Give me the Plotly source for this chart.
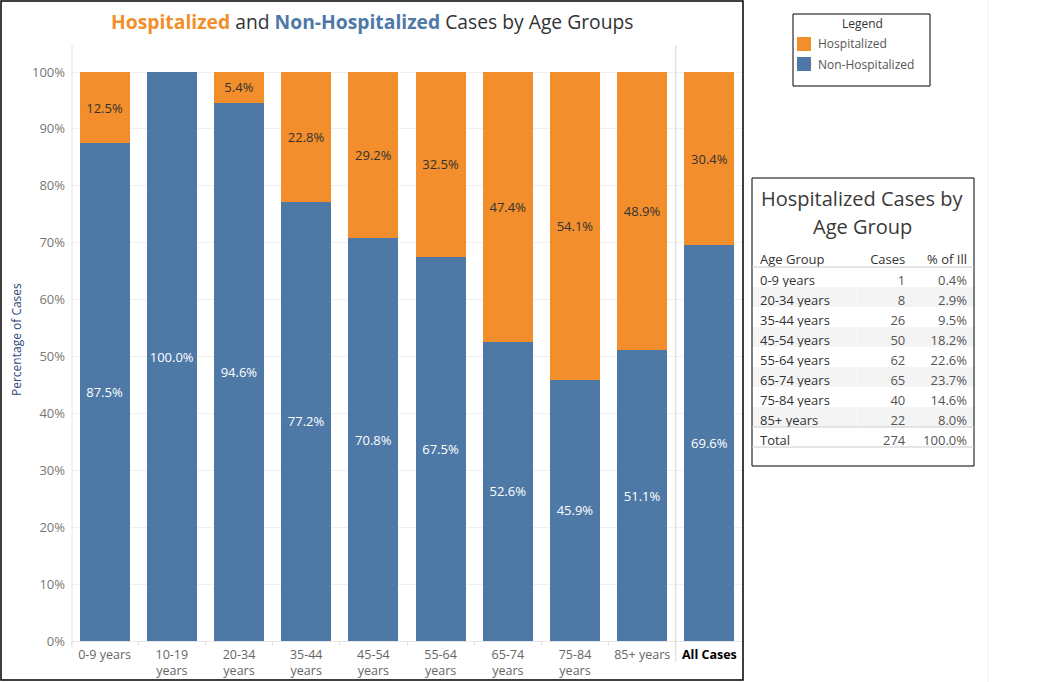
import plotly.graph_objects as go

# ---------------- data ----------------
categories = ["0-9 years", "10-19 years", "20-34 years", "35-44 years", "45-54 years",
              "55-64 years", "65-74 years", "75-84 years", "85+ years", "All Cases"]
tick_labels = ["0-9 years", "10-19<br>years", "20-34<br>years", "35-44<br>years", "45-54<br>years",
               "55-64<br>years", "65-74<br>years", "75-84<br>years", "85+ years",
               "<span style='color:#000000'><b>All Cases</b></span>"]
hospitalized = [12.5, 0.0, 5.4, 22.8, 29.2, 32.5, 47.4, 54.1, 48.9, 30.4]
non_hospitalized = [87.5, 100.0, 94.6, 77.2, 70.8, 67.5, 52.6, 45.9, 51.1, 69.6]

table_groups = ["0-9 years", "20-34 years", "35-44 years", "45-54 years", "55-64 years",
                "65-74 years", "75-84 years", "85+ years", "Total"]
table_cases = [1, 8, 26, 50, 62, 65, 40, 22, 274]
table_pct = [0.4, 2.9, 9.5, 18.2, 22.6, 23.7, 14.6, 8.0, 100.0]

y_ticks = [0, 10, 20, 30, 40, 50, 60, 70, 80, 90, 100]

# ---------------- styling ----------------
W, H = 1038, 682
ORANGE = "#f28e2b"
BLUE = "#4e79a7"
FONT = "Open Sans"


def px(x):
    return x / W


def py(y):
    return 1 - y / H


fig = go.Figure()

fig.add_trace(go.Bar(
    x=categories, y=non_hospitalized, name="Non-Hospitalized",
    marker=dict(color=BLUE, line=dict(width=0)), width=0.745,
    text=[f"{v:.1f}%" if v > 0 else "" for v in non_hospitalized],
    textposition="inside", insidetextanchor="middle", textangle=0,
    textfont=dict(color="white", size=13, family=FONT),
    constraintext="none", showlegend=False, hoverinfo="skip",
))
fig.add_trace(go.Bar(
    x=categories, y=hospitalized, name="Hospitalized",
    marker=dict(color=ORANGE, line=dict(width=0)), width=0.745,
    text=[f"{v:.1f}%" if v > 0 else "" for v in hospitalized],
    textposition="inside", insidetextanchor="middle", textangle=0,
    textfont=dict(color="#333333", size=13, family=FONT),
    constraintext="none", showlegend=False, hoverinfo="skip",
))

# table
row_fill = ["#ffffff" if i % 2 == 0 or g == "Total" else "#f4f4f4" for i, g in enumerate(table_groups)]
fig.add_trace(go.Table(
    domain=dict(x=[px(752), px(976)], y=[py(466), py(246)]),
    columnwidth=[105, 57, 62],
    header=dict(
        values=["Age Group", "Cases", "% of Ill"],
        align=["left", "right", "right"],
        font=dict(family=FONT, size=13, color="#333333"),
        fill=dict(color="white"), line=dict(width=0), height=21,
    ),
    cells=dict(
        values=[table_groups, [str(c) for c in table_cases], [f"{p:.1f}%" for p in table_pct]],
        align=["left", "right", "right"],
        font=dict(family=FONT, size=13, color=["#333333", "#555555", "#555555"]),
        fill=dict(color=[row_fill, row_fill, row_fill]), line=dict(width=0), height=20,
    ),
))

shapes = [
    # main panel border
    dict(type="rect", xref="paper", yref="paper", x0=px(1), x1=px(743), y0=py(1), y1=py(680),
         line=dict(color="black", width=1.5)),
    # left vertical axis line
    dict(type="line", xref="paper", yref="paper", x0=px(72), x1=px(72), y0=py(45), y1=py(648),
         line=dict(color="#e6e6e6", width=1)),
    # separator before All Cases
    dict(type="line", xref="x", yref="paper", x0=8.5, x1=8.5, y0=py(45), y1=py(662),
         line=dict(color="#d6d6d6", width=1)),
    # faint right line
    dict(type="line", xref="paper", yref="paper", x0=px(988), x1=px(988), y0=0, y1=1,
         line=dict(color="#f0f0f0", width=1)),
    # legend box
    dict(type="rect", xref="paper", yref="paper", x0=px(793), x1=px(930), y0=py(14), y1=py(86),
         line=dict(color="black", width=1)),
    dict(type="rect", xref="paper", yref="paper", x0=px(797), x1=px(811), y0=py(37), y1=py(51),
         line=dict(width=0), fillcolor=ORANGE),
    dict(type="rect", xref="paper", yref="paper", x0=px(797), x1=px(811), y0=py(57), y1=py(71),
         line=dict(width=0), fillcolor=BLUE),
    # table box
    dict(type="rect", xref="paper", yref="paper", x0=px(752), x1=px(974), y0=py(178), y1=py(466),
         line=dict(color="black", width=1)),
    dict(type="line", xref="paper", yref="paper", x0=px(752), x1=px(974), y0=py(267), y1=py(267),
         line=dict(color="#cccccc", width=1)),
    dict(type="line", xref="paper", yref="paper", x0=px(752), x1=px(974), y0=py(427), y1=py(427),
         line=dict(color="#cccccc", width=1)),
    dict(type="line", xref="paper", yref="paper", x0=px(752), x1=px(974), y0=py(447), y1=py(447),
         line=dict(color="#cccccc", width=1)),
]

annotations = [
    dict(xref="paper", yref="paper", x=px(372), y=py(22), xanchor="center", yanchor="middle",
         showarrow=False, font=dict(family=FONT, size=19.3, color="#333333"),
         text=f"<span style='color:{ORANGE}'><b>Hospitalized</b></span> and "
              f"<span style='color:{BLUE}'><b>Non-Hospitalized</b></span> Cases by Age Groups"),
    dict(xref="paper", yref="paper", x=px(16), y=py(340), xanchor="center", yanchor="middle",
         showarrow=False, textangle=-90, font=dict(family=FONT, size=12, color="#2e4a7d"),
         text="Percentage of Cases"),
    dict(xref="paper", yref="paper", x=px(862), y=py(24), xanchor="center", yanchor="middle",
         showarrow=False, font=dict(family=FONT, size=12, color="#333333"), text="Legend"),
    dict(xref="paper", yref="paper", x=px(816), y=py(44), xanchor="left", yanchor="middle",
         showarrow=False, font=dict(family=FONT, size=12, color="#555555"), text="Hospitalized"),
    dict(xref="paper", yref="paper", x=px(816), y=py(64), xanchor="left", yanchor="middle",
         showarrow=False, font=dict(family=FONT, size=12, color="#555555"), text="Non-Hospitalized"),
    dict(xref="paper", yref="paper", x=px(862), y=py(199), xanchor="center", yanchor="middle",
         showarrow=False, font=dict(family=FONT, size=20, color="#3a3a3a"), text="Hospitalized Cases by"),
    dict(xref="paper", yref="paper", x=px(862), y=py(227), xanchor="center", yanchor="middle",
         showarrow=False, font=dict(family=FONT, size=20, color="#3a3a3a"), text="Age Group"),
]

fig.update_layout(
    width=W, height=H, margin=dict(l=0, r=0, t=0, b=0),
    paper_bgcolor="white", plot_bgcolor="white",
    barmode="stack", bargap=0.25,
    font=dict(family=FONT, size=12, color="#666666"),
    xaxis=dict(domain=[px(71), px(743)], range=[-0.5, 9.5], automargin=False,
               tickmode="array", tickvals=categories, ticktext=tick_labels,
               tickfont=dict(family=FONT, size=12.5, color="#666666"),
               showgrid=False, zeroline=False, showline=True, linecolor="#e6e6e6",
               ticks="outside", tickson="boundaries", ticklen=4, tickcolor="#e6e6e6",
               ticklabelstandoff=2),
    yaxis=dict(domain=[py(641), py(45)], range=[0, 104.75], automargin=False,
               tickmode="array", tickvals=y_ticks, ticktext=[f"{t}%" for t in y_ticks],
               tickfont=dict(family=FONT, size=13, color="#777777"),
               showgrid=True, gridcolor="#f0f0f0", zeroline=False, showline=False,
               ticks="", ticklabelstandoff=5),
    shapes=shapes, annotations=annotations,
)

fig.write_html("out.html", config={"displayModeBar": False},
               post_script="document.body.style.margin='0';document.body.style.padding='0';")
